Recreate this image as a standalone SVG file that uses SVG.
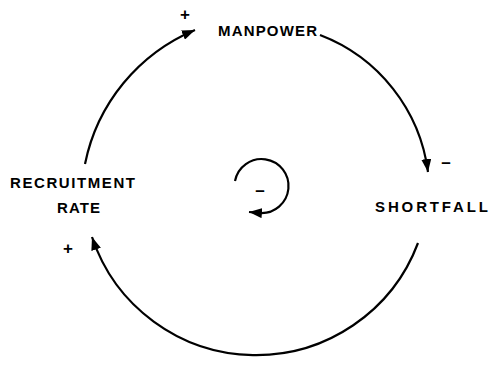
<svg xmlns="http://www.w3.org/2000/svg" width="500" height="370" viewBox="0 0 500 370">
<style>
.lbl{font-family:"Liberation Sans",Arial,sans-serif;font-weight:bold;font-size:15px;fill:#000}
.sgn{font-family:"Liberation Sans",Arial,sans-serif;font-weight:bold;font-size:17px;fill:#000;text-anchor:middle}
.con{fill:none;stroke:#000;stroke-width:2.2}
</style>
<defs>
<marker id="ah" markerUnits="userSpaceOnUse" markerWidth="14" markerHeight="10" refX="13" refY="5" orient="auto">
<path d="M0,0 L13,5 L0,10 z" fill="#000"/>
</marker>
</defs>
<rect width="500" height="370" fill="#fff"/>
<g id="connectors">
<path class="con" d="M85,164 A185,185 0 0 1 195,30" marker-end="url(#ah)"/>
<path class="con" d="M320,35 A170,170 0 0 1 428,172" marker-end="url(#ah)"/>
<path class="con" d="M418,243 A173,173 0 0 1 92,237" marker-end="url(#ah)"/>
</g>
<g id="manpower">
<text class="lbl" x="218" y="36" textLength="99" lengthAdjust="spacing">MANPOWER</text>
</g>
<g id="shortfall">
<text class="lbl" x="375" y="212" textLength="113" lengthAdjust="spacing">SHORTFALL</text>
</g>
<g id="recruitment-rate">
<text class="lbl" x="10" y="188" textLength="125" lengthAdjust="spacing">RECRUITMENT</text>
<text class="lbl" x="57" y="213" textLength="43" lengthAdjust="spacing">RATE</text>
</g>
<g id="signs">
<text class="sgn" x="185" y="20">+</text>
<text class="sgn" x="446" y="168">–</text>
<text class="sgn" x="68" y="254">+</text>
</g>
<g id="loop">
<path class="con" d="M235,181 A27,27 0 1 1 260,213 L249,212" marker-end="url(#ah)"/>
<text class="sgn" x="260" y="196">–</text>
</g>
</svg>
